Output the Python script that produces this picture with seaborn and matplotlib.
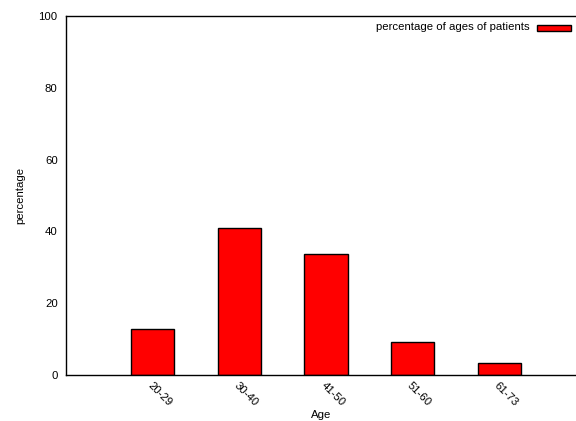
import matplotlib
matplotlib.use("Agg")
import matplotlib.pyplot as plt
from matplotlib.patches import Rectangle
import seaborn as sns
import pandas as pd

age_groups = ["20-29", "30-40", "41-50", "51-60", "61-73"]
percentages = [12.7, 41.0, 33.7, 9.1, 3.4]
series_label = "percentage of ages of patients"

sns.set_style("white")
plt.rcParams["font.family"] = ["Liberation Sans", "DejaVu Sans"]
plt.rcParams["text.color"] = "black"
plt.rcParams["axes.labelcolor"] = "black"
plt.rcParams["xtick.color"] = "black"
plt.rcParams["ytick.color"] = "black"

df = pd.DataFrame({"Age": age_groups, "percentage": percentages})

W, H = 576, 421
fig = plt.figure(figsize=(W / 100, H / 100), dpi=100)
ax = fig.add_axes([66 / W, 1 - 375 / H, 1 - 66 / W + 0.002, (375 - 16) / H])

sns.barplot(data=df, x="Age", y="percentage", color="#ff0000", saturation=1,
            width=0.5, edgecolor="black", linewidth=1.0, ax=ax)

ax.set_xlim(-1, 4.9)
ax.set_ylim(0, 100)
ax.set_yticks([0, 20, 40, 60, 80, 100])
ax.tick_params(axis="y", direction="in", length=4, width=1, labelsize=8.2, pad=6)
ax.tick_params(axis="x", length=0, labelsize=8.2, pad=4)
for lbl in ax.get_xticklabels():
    lbl.set_rotation(-45)
    lbl.set_ha("left")
    lbl.set_va("top")
    lbl.set_rotation_mode("anchor")

ax.set_xlabel("Age", fontsize=8.2)
ax.set_ylabel("percentage", fontsize=8.2)
# place axis titles in axes-fraction coordinates
ax.xaxis.set_label_coords((321 - 66) / (W - 66), -(415 - 375) / (375 - 16))
ax.xaxis.label.set_va("center")
ax.yaxis.set_label_coords(-(66 - 20) / (W - 66), 0.5)
ax.yaxis.label.set_va("center")

for side in ["left", "bottom", "top"]:
    ax.spines[side].set_visible(True)
    ax.spines[side].set_color("black")
    ax.spines[side].set_linewidth(1.0)
ax.spines["right"].set_visible(False)

# key entry in the top-right corner
fig.text(530 / W, 1 - 27 / H, series_label, ha="right", va="center", fontsize=8.2)
fig.patches.append(Rectangle((537 / W, 1 - 31 / H), 34 / W, 6 / H,
                             transform=fig.transFigure, facecolor="#ff0000",
                             edgecolor="black", linewidth=1.0))

fig.savefig("out.png", dpi=100)
